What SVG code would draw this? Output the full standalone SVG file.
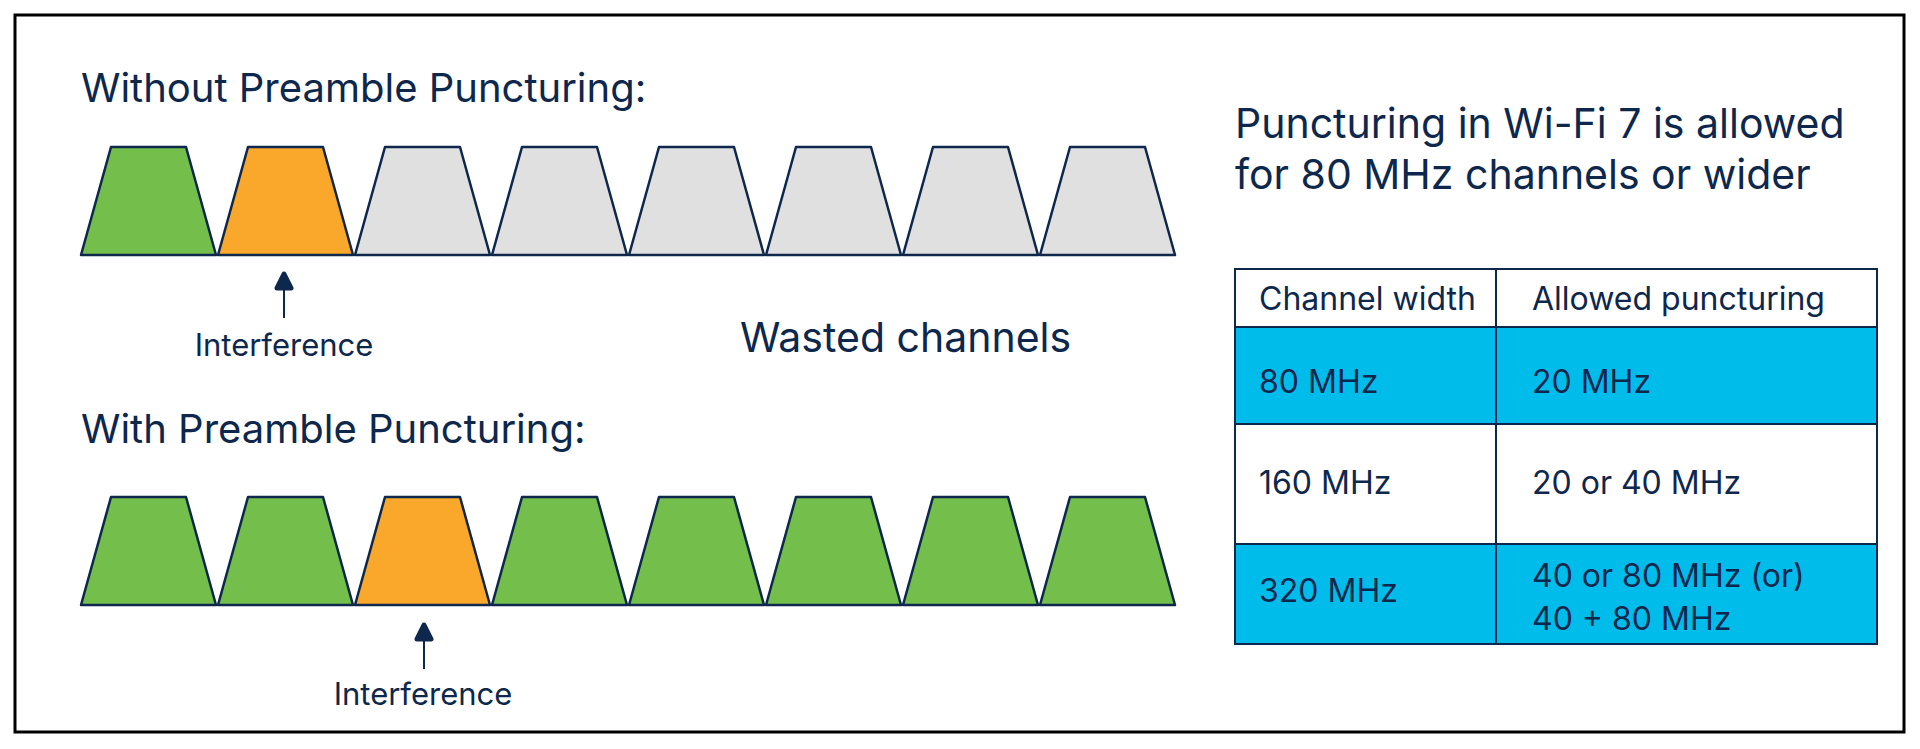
<svg xmlns="http://www.w3.org/2000/svg" width="1920" height="749" viewBox="0 0 1920 749">
<style>
text{font-family:Inter,"Noto Sans",sans-serif;fill:#0d274d}
.t{stroke:#0d274d;stroke-width:2.5;stroke-linejoin:round}
.g{fill:#74bf4b}.o{fill:#f9a82c}.w{fill:#e0e0e0}
.h{font-size:40px}.s{font-size:31px}.c text{font-size:32px}
.cell{stroke:#0d274d;stroke-width:2}
.ah{fill:#0d274d;stroke:#0d274d;stroke-width:5;stroke-linejoin:round}
</style>
<defs>
<path id="tz" d="M0,0 L30,-108 L105,-108 L135,0 Z"/>
</defs>
<rect x="15" y="15" width="1889" height="717" fill="#fff" stroke="#000" stroke-width="3"/>
<text class="h" x="81" y="102">Without Preamble Puncturing:</text>
<g id="row1">
<use href="#tz" x="81" y="255" class="t g"/>
<use href="#tz" x="218" y="255" class="t o"/>
<use href="#tz" x="355" y="255" class="t w"/>
<use href="#tz" x="492" y="255" class="t w"/>
<use href="#tz" x="629" y="255" class="t w"/>
<use href="#tz" x="766" y="255" class="t w"/>
<use href="#tz" x="903" y="255" class="t w"/>
<use href="#tz" x="1040" y="255" class="t w"/>
</g>
<text class="s" x="284" y="356" text-anchor="middle">Interference</text>
<text x="740" y="352" style="font-size:41px">Wasted channels</text>
<text class="h" x="81" y="443">With Preamble Puncturing:</text>
<g id="row2">
<use href="#tz" x="81" y="605" class="t g"/>
<use href="#tz" x="218" y="605" class="t g"/>
<use href="#tz" x="355" y="605" class="t o"/>
<use href="#tz" x="492" y="605" class="t g"/>
<use href="#tz" x="629" y="605" class="t g"/>
<use href="#tz" x="766" y="605" class="t g"/>
<use href="#tz" x="903" y="605" class="t g"/>
<use href="#tz" x="1040" y="605" class="t g"/>
</g>
<text class="s" x="423" y="705" text-anchor="middle">Interference</text>
<g id="connectors">
<line x1="284" y1="318" x2="284" y2="285" stroke="#0d274d" stroke-width="2"/>
<path class="ah" d="M284,274 L291,288 L277,288 Z"/>
<line x1="424" y1="669" x2="424" y2="636" stroke="#0d274d" stroke-width="2"/>
<path class="ah" d="M424,625 L431,639 L417,639 Z"/>
</g>
<text x="1235" y="138" style="font-size:41px">Puncturing in Wi-Fi 7 is allowed</text>
<text x="1235" y="189" style="font-size:41px">for 80 MHz channels or wider</text>
<g id="table" class="cell">
<rect x="1235" y="269" width="642" height="58" fill="#fff"/>
<rect x="1235" y="327" width="642" height="97" fill="#00bceb"/>
<rect x="1235" y="424" width="642" height="120" fill="#fff"/>
<rect x="1235" y="544" width="642" height="100" fill="#00bceb"/>
<line x1="1496" y1="269" x2="1496" y2="644"/>
</g>
<g class="c">
<text x="1259" y="310">Channel width</text><text x="1532" y="310">Allowed puncturing</text>
<text x="1259" y="393">80 MHz</text><text x="1532" y="393">20 MHz</text>
<text x="1259" y="494">160 MHz</text><text x="1532" y="494">20 or 40 MHz</text>
<text x="1259" y="602">320 MHz</text><text x="1532" y="587">40 or 80 MHz (or)</text><text x="1532" y="630">40 + 80 MHz</text>
</g>
</svg>
